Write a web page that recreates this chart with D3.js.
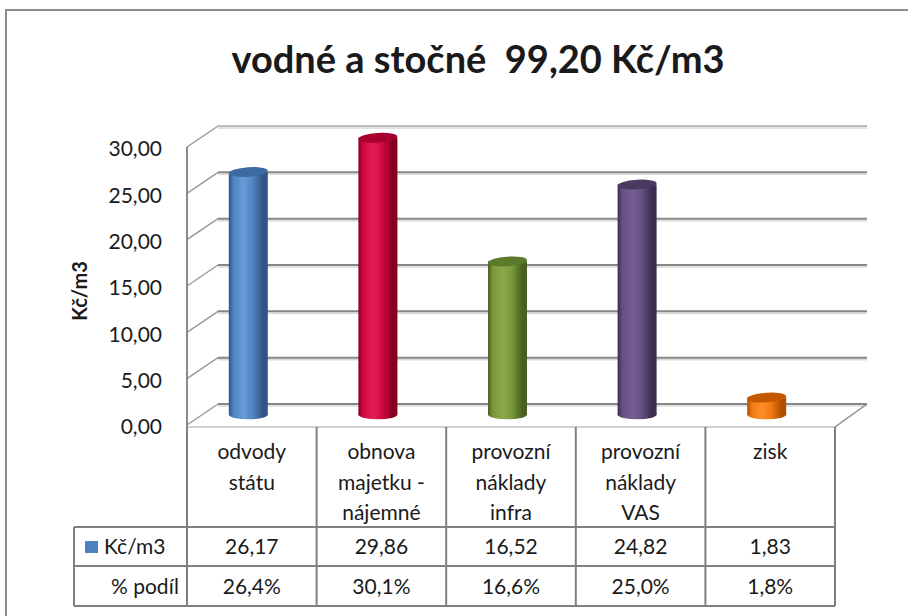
<!DOCTYPE html>
<html>
<head>
<meta charset="utf-8">
<script src="https://cdn.jsdelivr.net/npm/d3@7"></script>
<style>
  html, body { margin: 0; padding: 0; background: #fff; }
  svg { display: block; }
  text { font-family: Lato, "Open Sans", "Liberation Sans", sans-serif; fill: #1a1a1a; }
</style>
</head>
<body>
<svg id="chart" width="908" height="616"></svg>
<script>
// ---- data ----
const titleText = "vodné a stočné  99,20 Kč/m3";
const axisTitle = "Kč/m3";
const categories = ["odvody státu", "obnova majetku - nájemné", "provozní náklady infra", "provozní náklady VAS", "zisk"];
const categoryLines = [["odvody", "státu"], ["obnova", "majetku -", "nájemné"], ["provozní", "náklady", "infra"], ["provozní", "náklady", "VAS"], ["zisk"]];
const values = [26.17, 29.86, 16.52, 24.82, 1.83];
const valueLabels = ["26,17", "29,86", "16,52", "24,82", "1,83"];
const shareLabels = ["26,4%", "30,1%", "16,6%", "25,0%", "1,8%"];
const rowLabels = ["Kč/m3", "% podíl"];
const yTicks = [0, 5, 10, 15, 20, 25, 30];
const barColors = [
  {dark: "#2f5485", mid: "#4f83c2", light: "#6a9bd6", top: "#3d6aa3"},
  {dark: "#85001f", mid: "#d2063f", light: "#e0205a", top: "#a5002f"},
  {dark: "#4a5e22", mid: "#77973a", light: "#8aab4a", top: "#5b7a2b"},
  {dark: "#3a2d50", mid: "#64507f", light: "#765f93", top: "#4a3a62"},
  {dark: "#b04e00", mid: "#f07a10", light: "#ff8f2a", top: "#c45800"}
];

// ---- layout ----
const svg = d3.select("#chart");
const locale = d3.formatLocale({decimal: ",", thousands: " ", grouping: [3], currency: ["", " Kč"]});
const fmt = locale.format(".2f");

const frontLeft = 187, frontRight = 835;
const depthX = 31, depthY = -21;
const y = d3.scaleLinear().domain([0, 30]).range([425, 147]);
const x = d3.scaleBand().domain(categories).range([frontLeft, frontRight]).padding(0);

// outer border
svg.append("rect").attr("x", 6).attr("y", 10).attr("width", 1000).attr("height", 1000)
  .attr("fill", "none").attr("stroke", "#8c8c8c").attr("stroke-width", 2);

// title
svg.append("text").attr("x", 478).attr("y", 73).attr("text-anchor", "middle")
  .style("white-space", "pre").attr("xml:space", "preserve")
  .attr("font-size", 38).attr("font-weight", "bold").attr("fill", "#000").text(titleText);

const defs = svg.append("defs");

// back wall gridlines
const grid = svg.append("g");
yTicks.forEach(t => {
  const yb = y(t) + depthY;
  grid.append("line").attr("x1", frontLeft + depthX).attr("x2", frontRight + depthX + 1)
    .attr("y1", yb + 2).attr("y2", yb + 2).attr("stroke", "#d9d9d9").attr("stroke-width", 1.5);
  grid.append("line").attr("x1", frontLeft + depthX).attr("x2", frontRight + depthX + 1)
    .attr("y1", yb).attr("y2", yb).attr("stroke", t === 30 ? "#bdbdbd" : "#868686").attr("stroke-width", 2);
  // side wall diagonal
  grid.append("line").attr("x1", frontLeft).attr("y1", y(t))
    .attr("x2", frontLeft + depthX).attr("y2", y(t) + depthY)
    .attr("stroke", "#9a9a9a").attr("stroke-width", 1.5);
});
// floor front edge and right floor edge
grid.append("line").attr("x1", frontLeft).attr("x2", frontRight).attr("y1", y(0) + 2).attr("y2", y(0) + 2)
  .attr("stroke", "#d0d0d0").attr("stroke-width", 2);
grid.append("line").attr("x1", frontRight).attr("y1", y(0) + 2).attr("x2", frontRight + depthX + 1).attr("y2", y(0) + depthY)
  .attr("stroke", "#8a8a8a").attr("stroke-width", 1.5);
// front vertical axis line
grid.append("line").attr("x1", frontLeft).attr("x2", frontLeft).attr("y1", y(30)).attr("y2", y(0) + 2)
  .attr("stroke", "#8a8a8a").attr("stroke-width", 2);

// y axis labels
const yAxis = d3.axisLeft(y).tickValues(yTicks).tickSize(0).tickPadding(0).tickFormat(fmt);
const ag = svg.append("g").attr("transform", `translate(${frontLeft - 25},2)`).call(yAxis);
ag.select(".domain").remove();
ag.selectAll("text").attr("font-size", 21).attr("fill", "#1a1a1a")
  .style("font-family", "Lato, 'Open Sans', sans-serif");

// axis title
svg.append("text").attr("transform", "translate(87,291) rotate(-90)").attr("text-anchor", "middle")
  .attr("font-size", 20).attr("font-weight", "bold").attr("fill", "#000").text(axisTitle);

// cylinders
const barW = 39, ry = 4.8;
const midDY = depthY / 2;
const bars = svg.append("g");
categories.forEach((c, i) => {
  const col = barColors[i];
  const gid = "grad" + i;
  const g = defs.append("linearGradient").attr("id", gid).attr("x1", "0%").attr("x2", "100%").attr("y1", "0%").attr("y2", "0%");
  [[0, col.dark], [0.12, col.mid], [0.38, col.light], [0.62, col.mid], [0.88, col.dark], [1, col.dark]].forEach(s =>
    g.append("stop").attr("offset", s[0]).attr("stop-color", s[1]));
  const cx = x(c) + x.bandwidth() / 2 - 3.5;
  const yBot = y(0) + midDY;
  const yTop = y(values[i]) + midDY;
  const bg = bars.append("g");
  bg.append("ellipse").attr("cx", cx).attr("cy", yBot).attr("rx", barW / 2).attr("ry", ry).attr("fill", `url(#${gid})`);
  bg.append("rect").attr("x", cx - barW / 2).attr("y", yTop).attr("width", barW).attr("height", yBot - yTop)
    .attr("fill", `url(#${gid})`);
  bg.append("ellipse").attr("cx", cx).attr("cy", yTop).attr("rx", barW / 2).attr("ry", ry).attr("fill", col.top)
    .attr("transform", `rotate(-4 ${cx} ${yTop})`);
});

// data table
const tbl = svg.append("g");
const hdrTop = y(0) + 2, r1 = 527, r2 = 566, r3 = 606, tblLeft = 74;
const bc = "#808080";
categories.forEach((c) => {
  tbl.append("line").attr("x1", x(c)).attr("x2", x(c)).attr("y1", hdrTop).attr("y2", r3).attr("stroke", bc).attr("stroke-width", 2);
});
tbl.append("line").attr("x1", frontRight).attr("x2", frontRight).attr("y1", hdrTop).attr("y2", r3).attr("stroke", bc).attr("stroke-width", 2);
tbl.append("line").attr("x1", tblLeft).attr("x2", tblLeft).attr("y1", r1).attr("y2", r3).attr("stroke", bc).attr("stroke-width", 2);
[r1, r2, r3].forEach(r => tbl.append("line").attr("x1", tblLeft).attr("x2", frontRight).attr("y1", r).attr("y2", r)
  .attr("stroke", bc).attr("stroke-width", 2));

categories.forEach((c, i) => {
  const cx = x(c) + x.bandwidth() / 2;
  categoryLines[i].forEach((ln, k) => {
    tbl.append("text").attr("x", cx).attr("y", 459 + k * 30.5).attr("text-anchor", "middle")
      .attr("font-size", 21).text(ln);
  });
  tbl.append("text").attr("x", cx).attr("y", 554).attr("text-anchor", "middle").attr("font-size", 21).text(valueLabels[i]);
  tbl.append("text").attr("x", cx).attr("y", 594).attr("text-anchor", "middle").attr("font-size", 21).text(shareLabels[i]);
});
tbl.append("rect").attr("x", 85).attr("y", 541).attr("width", 13).attr("height", 12).attr("fill", "#4f81bd");
tbl.append("text").attr("x", 104).attr("y", 554).attr("font-size", 21).text(rowLabels[0]);
tbl.append("text").attr("x", 179).attr("y", 594).attr("text-anchor", "end").attr("font-size", 21).text(rowLabels[1]);
</script>
</body>
</html>
